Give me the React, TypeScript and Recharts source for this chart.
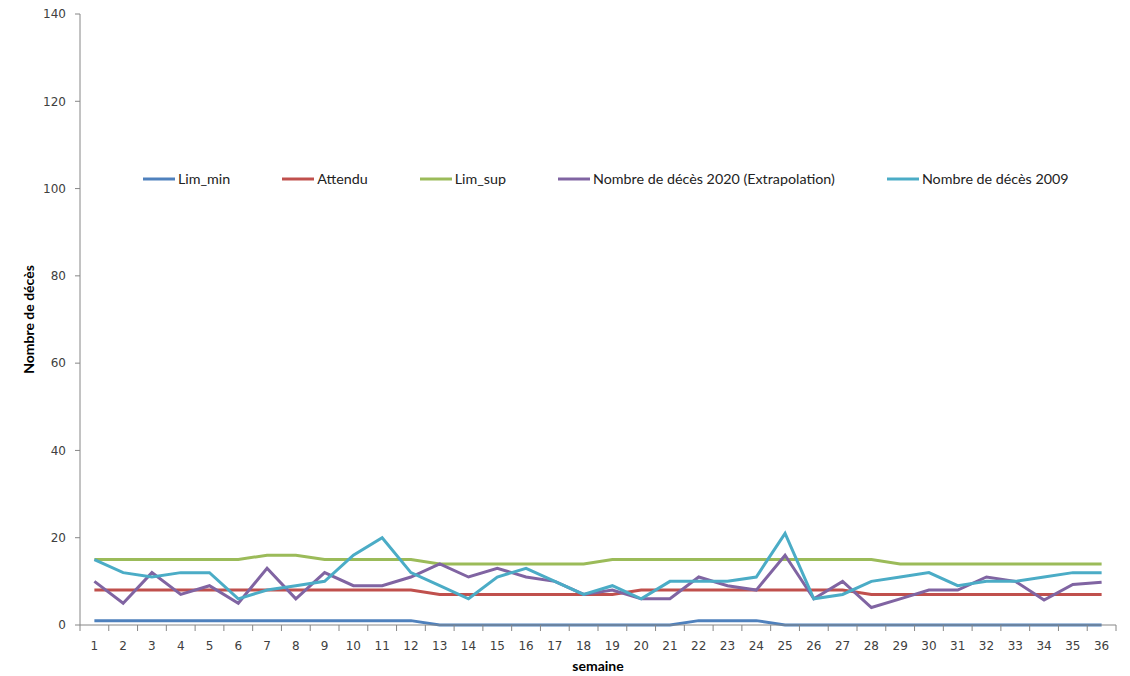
import { LineChart, Line, XAxis, YAxis } from "recharts";

const weeks = Array.from({ length: 36 }, (_, i) => String(i + 1));

const limMin = [1, 1, 1, 1, 1, 1, 1, 1, 1, 1, 1, 1, 0, 0, 0, 0, 0, 0, 0, 0, 0, 1, 1, 1, 0, 0, 0, 0, 0, 0, 0, 0, 0, 0, 0, 0];
const attendu = [8, 8, 8, 8, 8, 8, 8, 8, 8, 8, 8, 8, 7, 7, 7, 7, 7, 7, 7, 8, 8, 8, 8, 8, 8, 8, 8, 7, 7, 7, 7, 7, 7, 7, 7, 7];
const limSup = [15, 15, 15, 15, 15, 15, 16, 16, 15, 15, 15, 15, 14, 14, 14, 14, 14, 14, 15, 15, 15, 15, 15, 15, 15, 15, 15, 15, 14, 14, 14, 14, 14, 14, 14, 14];
const deces2020 = [10, 5, 12, 7, 9, 5, 13, 6, 12, 9, 9, 11, 14, 11, 13, 11, 10, 7, 8, 6, 6, 11, 9, 8, 16, 6, 10, 4, 6, 8, 8, 11, 10, 5.7, 9.3, 9.8];
const deces2009 = [15, 12, 11, 12, 12, 6, 8, 9, 10, 16, 20, 12, 9, 6, 11, 13, 10, 7, 9, 6, 10, 10, 10, 11, 21, 6, 7, 10, 11, 12, 9, 10, 10, 11, 12, 12];

const yTicks = [0, 20, 40, 60, 80, 100, 120, 140];

const series = [
  { key: "limMin", name: "Lim_min", color: "#4F81BD" },
  { key: "attendu", name: "Attendu", color: "#C0504D" },
  { key: "limSup", name: "Lim_sup", color: "#9BBB59" },
  { key: "deces2020", name: "Nombre de décès 2020 (Extrapolation)", color: "#8064A2" },
  { key: "deces2009", name: "Nombre de décès 2009", color: "#4BACC6" },
];

const data = weeks.map((w, i) => ({
  semaine: w,
  limMin: limMin[i],
  attendu: attendu[i],
  limSup: limSup[i],
  deces2020: deces2020[i],
  deces2009: deces2009[i],
}));

const W = 1130;
const H = 676;
const PLOT_LEFT = 80;
const PLOT_RIGHT = 1116;
const PLOT_TOP = 14;
const PLOT_BOTTOM = 625;
const BAND = (PLOT_RIGHT - PLOT_LEFT) / weeks.length;
const AXIS_COLOR = "#868686";
const TICK_FONT = "'DejaVu Sans', sans-serif";
const TEXT_FONT = "Lato, 'Open Sans', sans-serif";

const XTick = (props: any) => {
  const { x, payload, index } = props;
  const last = index === weeks.length - 1;
  return (
    <g>
      <line x1={x - BAND / 2} x2={x - BAND / 2} y1={PLOT_BOTTOM} y2={PLOT_BOTTOM + 6} stroke={AXIS_COLOR} />
      {last && (
        <line x1={x + BAND / 2} x2={x + BAND / 2} y1={PLOT_BOTTOM} y2={PLOT_BOTTOM + 6} stroke={AXIS_COLOR} />
      )}
      <text x={x} y={PLOT_BOTTOM + 25} textAnchor="middle" fontFamily={TICK_FONT} fontSize={12} fill="#404040">
        {payload.value}
      </text>
    </g>
  );
};

// legend drawn outside recharts so it does not eat plot height
function ChartLegend() {
  return (
    <div
      style={{
        position: "absolute",
        left: 143,
        top: 170,
        display: "flex",
        alignItems: "center",
        fontFamily: TEXT_FONT,
        fontSize: 14.3,
        color: "#222",
        whiteSpace: "nowrap",
      }}
    >
      {series.map((s) => (
        <div key={s.key} style={{ display: "flex", alignItems: "center", marginRight: 52 }}>
          <svg width={32} height={6} style={{ marginRight: 3 }}>
            <line x1={0} x2={32} y1={3} y2={3} stroke={s.color} strokeWidth={3} />
          </svg>
          <span>{s.name}</span>
        </div>
      ))}
    </div>
  );
}

export default function App() {
  return (
    <div style={{ position: "absolute", left: 0, top: 0, width: W, height: H, background: "#fff" }}>
      <LineChart
        width={W}
        height={H}
        data={data}
        margin={{ top: PLOT_TOP, right: W - PLOT_RIGHT, bottom: 0, left: 0 }}
      >
        <XAxis
          dataKey="semaine"
          height={H - PLOT_BOTTOM}
          padding={{ left: BAND / 2, right: BAND / 2 }}
          interval={0}
          tickLine={false}
          axisLine={{ stroke: AXIS_COLOR }}
          tick={<XTick />}
          label={{
            content: () => (
              <text x={(PLOT_LEFT + PLOT_RIGHT) / 2} y={671} textAnchor="middle" fontFamily={TEXT_FONT} fontWeight="bold" fontSize={14} fill="#000">
                semaine
              </text>
            ),
          }}
        />
        <YAxis
          width={PLOT_LEFT}
          domain={[0, 140]}
          ticks={yTicks}
          interval={0}
          tickSize={5}
          tickMargin={9}
          axisLine={{ stroke: AXIS_COLOR }}
          tickLine={{ stroke: AXIS_COLOR }}
          tick={{ fontFamily: TICK_FONT, fontSize: 12, fill: "#404040" }}
          label={{
            content: () => (
              <text
                x={34}
                y={(PLOT_TOP + PLOT_BOTTOM) / 2}
                transform={`rotate(-90 34 ${(PLOT_TOP + PLOT_BOTTOM) / 2})`}
                textAnchor="middle"
                fontFamily={TEXT_FONT}
                fontWeight="bold"
                fontSize={14}
                fill="#000"
              >
                Nombre de décès
              </text>
            ),
          }}
        />
        {series.map((s) => (
          <Line
            key={s.key}
            dataKey={s.key}
            name={s.name}
            stroke={s.color}
            strokeWidth={3}
            dot={false}
            isAnimationActive={false}
          />
        ))}
      </LineChart>
      <ChartLegend />
    </div>
  );
}
